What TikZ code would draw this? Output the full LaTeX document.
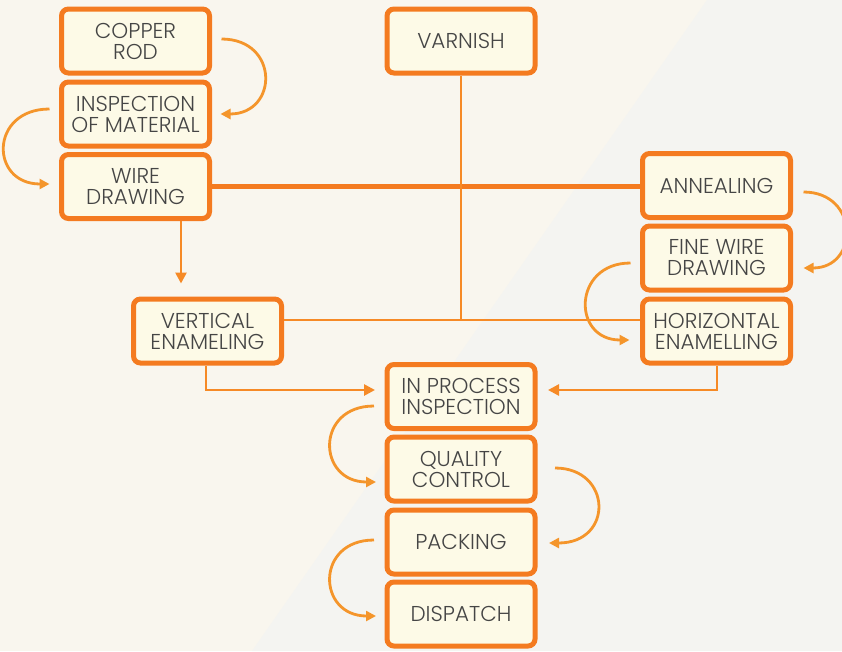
\documentclass[tikz,border=0pt]{standalone}
\usepackage{fontspec}
\setmainfont{Poppins}[UprightFont={* Light}]
\usetikzlibrary{arrows.meta,calc}
\definecolor{bgcream}{HTML}{F9F6EE}
\definecolor{bggrey}{HTML}{F4F4F1}
\definecolor{boxorange}{HTML}{F47B20}
\definecolor{lineorange}{HTML}{F68A26}
\definecolor{arcorange}{HTML}{F4952B}
\definecolor{boxfill}{HTML}{FDFAE7}
\definecolor{txtgrey}{HTML}{454545}
\begin{document}
\begin{tikzpicture}[x=1pt,y=-1pt,
  stepbox/.style={draw=boxorange, line width=5pt, fill=boxfill, rounded corners=7pt,
    minimum width=148pt, minimum height=64pt, inner sep=0pt, align=center,
    text=txtgrey, font=\fontsize{21.5}{21}\selectfont},
  thickline/.style={draw=boxorange, line width=5pt},
  thinline/.style={draw=lineorange, line width=2.6pt},
  arr/.style={draw=lineorange, line width=2.6pt, -{Triangle[length=11pt,width=11pt]}},
  carr/.style={draw=arcorange, line width=2.8pt, -{Triangle[length=10pt,width=10pt]}}]
\useasboundingbox (0,0) rectangle (842,651);
\fill[bgcream] (0,0) rectangle (842,651);
\fill[bggrey] (707,0) -- (842,0) -- (842,651) -- (252,651) -- cycle;

\coordinate (j) at (461,320);

\node[stepbox] (cr)   at (135.5,41)   {COPPER\\ROD};
\node[stepbox] (insp) at (135.5,114)  {INSPECTION\\OF MATERIAL};
\node[stepbox] (wd)   at (135.5,186.5){WIRE\\DRAWING};
\node[stepbox] (var)  at (461,41)     {VARNISH};
\node[stepbox] (ann)  at (716.5,185.5){ANNEALING};
\node[stepbox] (fwd)  at (716.5,258)  {FINE WIRE\\DRAWING};
\node[stepbox] (hor)  at (716.5,331)  {HORIZONTAL\\ENAMELLING};
\node[stepbox] (ve)   at (207.5,331)  {VERTICAL\\ENAMELING};
\node[stepbox] (ip)   at (461,396.5)  {IN PROCESS\\INSPECTION};
\node[stepbox] (qc)   at (461,469)    {QUALITY\\CONTROL};
\node[stepbox] (pk)   at (461,542)    {PACKING};
\node[stepbox] (dp)   at (461,614)    {DISPATCH};

% straight connectors
\draw[thickline] (wd.east) -- (wd.east -| ann.west);
\draw[thinline] (var.south) -- (j);
\draw[thinline] (j -| ve.east) -- (j -| hor.west);
\draw[arr] ([xshift=45.5pt]wd.south) -- ([xshift=-26.5pt,yshift=13pt]ve.north);
\draw[arr] ([xshift=-1.5pt]ve.south) |- ([xshift=-9.5pt,yshift=6.5pt]ip.west);
\draw[arr] ([xshift=0.5pt]hor.south) |- ([xshift=10.5pt,yshift=6.5pt]ip.east);

% curved arrows
\coordinate (a1) at ([xshift=9.5pt,yshift=2pt]cr.east);
\coordinate (b1) at ([xshift=8.5pt]insp.east);
\draw[carr] (a1) .. controls ($(a1)+(58,0)$) and ($(b1)+(58,0)$) .. (b1);

\coordinate (a2) at ([xshift=-9.5pt,yshift=5pt]insp.west);
\coordinate (b2) at ([xshift=-9.5pt,yshift=2.5pt]wd.west);
\draw[carr] (a2) .. controls ($(a2)+(-60,0)$) and ($(b2)+(-60,0)$) .. (b2);

\coordinate (a3) at ([xshift=10.5pt,yshift=-6.5pt]ann.east);
\coordinate (b3) at ([xshift=10.5pt,yshift=-10pt]fwd.east);
\draw[carr] (a3) .. controls ($(a3)+(56,0)$) and ($(b3)+(56,0)$) .. (b3);

\coordinate (a4) at ([xshift=-9.5pt,yshift=-5pt]fwd.west);
\coordinate (b4) at ([xshift=-10.5pt,yshift=-9pt]hor.west);
\draw[carr] (a4) .. controls ($(a4)+(-58,0)$) and ($(b4)+(-58,0)$) .. (b4);

\coordinate (a5) at ([xshift=-10.5pt,yshift=-9.5pt]ip.west);
\coordinate (b5) at ([xshift=-8.5pt,yshift=-13pt]qc.west);
\draw[carr] (a5) .. controls ($(a5)+(-59,0)$) and ($(b5)+(-59,0)$) .. (b5);

\coordinate (a6) at ([xshift=17.5pt,yshift=1pt]qc.east);
\coordinate (b6) at ([xshift=11.5pt,yshift=-1pt]pk.east);
\draw[carr] (a6) .. controls ($(a6)+(57,0)$) and ($(b6)+(65,0)$) .. (b6);

\coordinate (a7) at ([xshift=-10.5pt,yshift=2pt]pk.west);
\coordinate (b7) at ([xshift=-8.5pt,yshift=-2pt]dp.west);
\draw[carr] (a7) .. controls ($(a7)+(-59,0)$) and ($(b7)+(-59,0)$) .. (b7);
\end{tikzpicture}
\end{document}
